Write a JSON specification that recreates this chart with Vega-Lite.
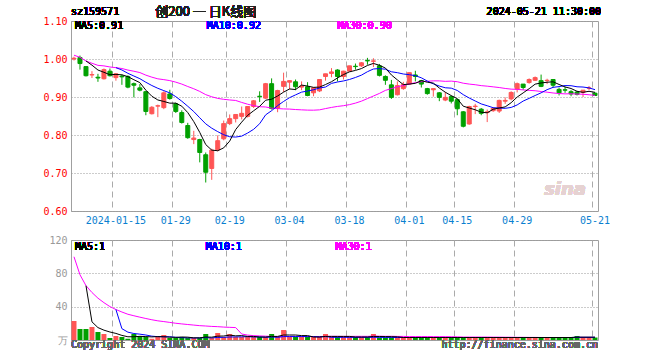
{
"$schema":"https://vega.github.io/schema/vega-lite/v6.json",
"autosize":{"type":"pad"},
"padding":{"left":42,"top":5,"right":10,"bottom":5},
"bounds":"flush",
"spacing":29,
"config":{"font":"DejaVu Sans Mono","view":{"stroke":"#a0a0a0","strokeWidth":1},"background":"#ffffff",
 "text":{"fontWeight":"normal"},
 "axis":{"labelFont":"DejaVu Sans Mono","labelFontSize":10,"ticks":false,"domain":false,"labelOverlap":false,"labelPadding":4}},
"data":{"values":[
{"d":"2024-01-04","o":1.000,"h":1.006,"l":0.996,"c":1.002,"v":22.8,"m5":null,"m10":null,"m30":1.0100,"vm5":null,"vm10":null,"vm30":99.9},
{"d":"2024-01-05","o":1.004,"h":1.009,"l":0.972,"c":0.988,"v":13.2,"m5":null,"m10":null,"m30":1.0045,"vm5":null,"vm10":null,"vm30":78.3},
{"d":"2024-01-08","o":0.980,"h":0.981,"l":0.954,"c":0.956,"v":13.2,"m5":0.9948,"m10":null,"m30":0.9948,"vm5":65.2,"vm10":null,"vm30":65.2},
{"d":"2024-01-09","o":0.958,"h":0.968,"l":0.950,"c":0.959,"v":15.6,"m5":0.9838,"m10":null,"m30":0.9888,"vm5":21.8,"vm10":null,"vm30":57.0},
{"d":"2024-01-10","o":0.952,"h":0.961,"l":0.940,"c":0.950,"v":9.6,"m5":0.9710,"m10":null,"m30":0.9833,"vm5":14.9,"vm10":null,"vm30":50.2},
{"d":"2024-01-11","o":0.948,"h":0.975,"l":0.946,"c":0.972,"v":7.2,"m5":0.9650,"m10":null,"m30":0.9819,"vm5":11.8,"vm10":null,"vm30":44.8},
{"d":"2024-01-12","o":0.968,"h":0.975,"l":0.954,"c":0.956,"v":2.4,"m5":0.9586,"m10":null,"m30":0.9790,"vm5":9.6,"vm10":null,"vm30":40.1},
{"d":"2024-01-15","o":0.951,"h":0.962,"l":0.943,"c":0.961,"v":4.8,"m5":0.9596,"m10":0.9772,"m30":0.9772,"vm5":7.9,"vm10":36.6,"vm30":36.6},
{"d":"2024-01-16","o":0.955,"h":0.959,"l":0.932,"c":0.953,"v":3.6,"m5":0.9584,"m10":0.9711,"m30":0.9750,"vm5":5.5,"vm10":13.6,"vm30":33.6},
{"d":"2024-01-17","o":0.954,"h":0.957,"l":0.923,"c":0.926,"v":1.5,"m5":0.9536,"m10":0.9623,"m30":0.9709,"vm5":3.9,"vm10":9.4,"vm30":30.9},
{"d":"2024-01-18","o":0.935,"h":0.938,"l":0.899,"c":0.931,"v":7.2,"m5":0.9454,"m10":0.9552,"m30":0.9678,"vm5":3.9,"vm10":7.8,"vm30":29.1},
{"d":"2024-01-19","o":0.924,"h":0.934,"l":0.915,"c":0.918,"v":4.8,"m5":0.9378,"m10":0.9482,"m30":0.9643,"vm5":4.4,"vm10":7.0,"vm30":27.4},
{"d":"2024-01-22","o":0.914,"h":0.915,"l":0.852,"c":0.862,"v":3.6,"m5":0.9180,"m10":0.9388,"m30":0.9575,"vm5":4.1,"vm10":6.0,"vm30":25.8},
{"d":"2024-01-23","o":0.856,"h":0.876,"l":0.854,"c":0.873,"v":1.5,"m5":0.9020,"m10":0.9302,"m30":0.9522,"vm5":3.7,"vm10":4.6,"vm30":24.3},
{"d":"2024-01-24","o":0.876,"h":0.880,"l":0.847,"c":0.877,"v":3.6,"m5":0.8922,"m10":0.9229,"m30":0.9478,"vm5":4.1,"vm10":4.0,"vm30":23.0},
{"d":"2024-01-25","o":0.872,"h":0.915,"l":0.868,"c":0.911,"v":6.0,"m5":0.8882,"m10":0.9168,"m30":0.9457,"vm5":3.9,"vm10":3.9,"vm30":22.1},
{"d":"2024-01-26","o":0.908,"h":0.919,"l":0.893,"c":0.896,"v":2.4,"m5":0.8838,"m10":0.9108,"m30":0.9431,"vm5":3.4,"vm10":3.9,"vm30":21.1},
{"d":"2024-01-29","o":0.882,"h":0.885,"l":0.858,"c":0.862,"v":2.4,"m5":0.8838,"m10":0.9009,"m30":0.9391,"vm5":3.2,"vm10":3.2,"vm30":20.1},
{"d":"2024-01-30","o":0.859,"h":0.865,"l":0.830,"c":0.833,"v":3.6,"m5":0.8758,"m10":0.8889,"m30":0.9340,"vm5":3.6,"vm10":2.8,"vm30":19.3},
{"d":"2024-01-31","o":0.825,"h":0.832,"l":0.790,"c":0.793,"v":2.4,"m5":0.8590,"m10":0.8756,"m30":0.9276,"vm5":3.4,"vm10":2.6,"vm30":18.6},
{"d":"2024-02-01","o":0.788,"h":0.811,"l":0.776,"c":0.792,"v":2.4,"m5":0.8352,"m10":0.8617,"m30":0.9217,"vm5":2.6,"vm10":2.4,"vm30":17.9},
{"d":"2024-02-02","o":0.788,"h":0.790,"l":0.728,"c":0.754,"v":2.4,"m5":0.8068,"m10":0.8453,"m30":0.9147,"vm5":2.6,"vm10":2.5,"vm30":17.2},
{"d":"2024-02-05","o":0.748,"h":0.754,"l":0.675,"c":0.702,"v":7.2,"m5":0.7748,"m10":0.8293,"m30":0.9062,"vm5":3.6,"vm10":2.9,"vm30":16.8},
{"d":"2024-02-06","o":0.712,"h":0.764,"l":0.682,"c":0.760,"v":2.4,"m5":0.7602,"m10":0.8180,"m30":0.9006,"vm5":3.4,"vm10":2.5,"vm30":16.3},
{"d":"2024-02-07","o":0.761,"h":0.799,"l":0.757,"c":0.785,"v":8.4,"m5":0.7586,"m10":0.8088,"m30":0.8963,"vm5":4.6,"vm10":3.1,"vm30":16.0},
{"d":"2024-02-08","o":0.790,"h":0.838,"l":0.786,"c":0.830,"v":3.6,"m5":0.7662,"m10":0.8007,"m30":0.8939,"vm5":4.8,"vm10":3.2,"vm30":15.5},
{"d":"2024-02-19","o":0.830,"h":0.854,"l":0.826,"c":0.843,"v":7.2,"m5":0.7840,"m10":0.7954,"m30":0.8922,"vm5":5.8,"vm10":3.6,"vm30":15.2},
{"d":"2024-02-20","o":0.843,"h":0.854,"l":0.833,"c":0.854,"v":3.6,"m5":0.8144,"m10":0.7946,"m30":0.8909,"vm5":5.0,"vm10":3.7,"vm30":14.9},
{"d":"2024-02-21","o":0.849,"h":0.875,"l":0.841,"c":0.857,"v":3.6,"m5":0.8338,"m10":0.7970,"m30":0.8857,"vm5":5.3,"vm10":3.8,"vm30":7.2},
{"d":"2024-02-22","o":0.849,"h":0.876,"l":0.846,"c":0.875,"v":3.6,"m5":0.8518,"m10":0.8052,"m30":0.8810,"vm5":4.3,"vm10":4.0,"vm30":5.9},
{"d":"2024-02-23","o":0.875,"h":0.892,"l":0.871,"c":0.890,"v":3.6,"m5":0.8638,"m10":0.8150,"m30":0.8773,"vm5":4.3,"vm10":3.6,"vm30":5.2},
{"d":"2024-02-26","o":0.902,"h":0.915,"l":0.887,"c":0.901,"v":3.6,"m5":0.8754,"m10":0.8297,"m30":0.8744,"vm5":3.6,"vm10":3.7,"vm30":4.9},
{"d":"2024-02-27","o":0.897,"h":0.937,"l":0.895,"c":0.935,"v":3.6,"m5":0.8916,"m10":0.8530,"m30":0.8737,"vm5":3.6,"vm10":3.2,"vm30":4.6},
{"d":"2024-02-28","o":0.935,"h":0.949,"l":0.867,"c":0.870,"v":7.2,"m5":0.8942,"m10":0.8640,"m30":0.8707,"vm5":4.3,"vm10":3.6,"vm30":4.3},
{"d":"2024-02-29","o":0.871,"h":0.919,"l":0.860,"c":0.917,"v":3.6,"m5":0.9026,"m10":0.8772,"m30":0.8696,"vm5":4.3,"vm10":3.2,"vm30":4.1},
{"d":"2024-03-01","o":0.928,"h":0.964,"l":0.913,"c":0.941,"v":12.0,"m5":0.9128,"m10":0.8883,"m30":0.8686,"vm5":6.0,"vm10":4.1,"vm30":4.3},
{"d":"2024-03-04","o":0.939,"h":0.943,"l":0.920,"c":0.943,"v":3.6,"m5":0.9212,"m10":0.8983,"m30":0.8682,"vm5":6.0,"vm10":4.1,"vm30":4.3},
{"d":"2024-03-05","o":0.940,"h":0.946,"l":0.918,"c":0.927,"v":3.6,"m5":0.9196,"m10":0.9056,"m30":0.8670,"vm5":6.0,"vm10":4.1,"vm30":4.3},
{"d":"2024-03-06","o":0.926,"h":0.941,"l":0.918,"c":0.929,"v":3.6,"m5":0.9314,"m10":0.9128,"m30":0.8662,"vm5":5.3,"vm10":4.1,"vm30":4.3},
{"d":"2024-03-07","o":0.927,"h":0.939,"l":0.902,"c":0.904,"v":3.6,"m5":0.9288,"m10":0.9157,"m30":0.8655,"vm5":5.3,"vm10":4.1,"vm30":4.3},
{"d":"2024-03-08","o":0.911,"h":0.926,"l":0.902,"c":0.924,"v":3.6,"m5":0.9254,"m10":0.9191,"m30":0.8653,"vm5":3.6,"vm10":4.1,"vm30":4.2},
{"d":"2024-03-11","o":0.916,"h":0.947,"l":0.913,"c":0.946,"v":3.6,"m5":0.9260,"m10":0.9236,"m30":0.8662,"vm5":3.6,"vm10":3.7,"vm30":4.2},
{"d":"2024-03-12","o":0.954,"h":0.961,"l":0.943,"c":0.961,"v":7.2,"m5":0.9328,"m10":0.9262,"m30":0.8695,"vm5":4.3,"vm10":4.1,"vm30":4.3},
{"d":"2024-03-13","o":0.962,"h":0.976,"l":0.952,"c":0.966,"v":3.6,"m5":0.9402,"m10":0.9358,"m30":0.8726,"vm5":4.3,"vm10":3.2,"vm30":4.4},
{"d":"2024-03-14","o":0.971,"h":0.973,"l":0.941,"c":0.954,"v":3.6,"m5":0.9502,"m10":0.9395,"m30":0.8752,"vm5":4.3,"vm10":3.2,"vm30":4.4},
{"d":"2024-03-15","o":0.954,"h":0.969,"l":0.946,"c":0.968,"v":3.6,"m5":0.9590,"m10":0.9422,"m30":0.8771,"vm5":4.3,"vm10":3.2,"vm30":4.3},
{"d":"2024-03-18","o":0.968,"h":0.982,"l":0.968,"c":0.982,"v":3.6,"m5":0.9662,"m10":0.9461,"m30":0.8799,"vm5":4.3,"vm10":3.2,"vm30":4.3},
{"d":"2024-03-19","o":0.981,"h":0.988,"l":0.972,"c":0.980,"v":3.6,"m5":0.9700,"m10":0.9514,"m30":0.8839,"vm5":3.6,"vm10":3.2,"vm30":4.4},
{"d":"2024-03-20","o":0.982,"h":0.992,"l":0.979,"c":0.990,"v":3.6,"m5":0.9748,"m10":0.9575,"m30":0.8891,"vm5":3.6,"vm10":3.2,"vm30":4.4},
{"d":"2024-03-21","o":0.996,"h":1.003,"l":0.985,"c":0.995,"v":3.6,"m5":0.9830,"m10":0.9666,"m30":0.8958,"vm5":3.6,"vm10":3.2,"vm30":4.4},
{"d":"2024-03-22","o":0.994,"h":1.002,"l":0.979,"c":0.995,"v":7.2,"m5":0.9884,"m10":0.9737,"m30":0.9026,"vm5":4.3,"vm10":3.2,"vm30":4.6},
{"d":"2024-03-25","o":0.982,"h":0.987,"l":0.954,"c":0.957,"v":3.0,"m5":0.9834,"m10":0.9748,"m30":0.9094,"vm5":4.2,"vm10":3.2,"vm30":4.6},
{"d":"2024-03-26","o":0.954,"h":0.957,"l":0.932,"c":0.944,"v":3.0,"m5":0.9762,"m10":0.9731,"m30":0.9174,"vm5":4.1,"vm10":3.1,"vm30":4.4},
{"d":"2024-03-27","o":0.932,"h":0.945,"l":0.895,"c":0.899,"v":3.0,"m5":0.9580,"m10":0.9664,"m30":0.9221,"vm5":4.0,"vm10":3.1,"vm30":4.5},
{"d":"2024-03-28","o":0.906,"h":0.941,"l":0.904,"c":0.930,"v":3.0,"m5":0.9450,"m10":0.9640,"m30":0.9269,"vm5":3.8,"vm10":3.0,"vm30":4.3},
{"d":"2024-03-29","o":0.922,"h":0.940,"l":0.919,"c":0.933,"v":3.0,"m5":0.9326,"m10":0.9605,"m30":0.9303,"vm5":3.0,"vm10":3.0,"vm30":4.3},
{"d":"2024-04-01","o":0.934,"h":0.964,"l":0.932,"c":0.964,"v":3.0,"m5":0.9340,"m10":0.9587,"m30":0.9344,"vm5":3.0,"vm10":3.0,"vm30":4.1},
{"d":"2024-04-02","o":0.958,"h":0.969,"l":0.941,"c":0.954,"v":3.0,"m5":0.9360,"m10":0.9561,"m30":0.9377,"vm5":3.0,"vm10":3.0,"vm30":4.1},
{"d":"2024-04-03","o":0.943,"h":0.945,"l":0.925,"c":0.934,"v":3.0,"m5":0.9430,"m10":0.9505,"m30":0.9403,"vm5":3.0,"vm10":3.0,"vm30":4.1},
{"d":"2024-04-08","o":0.922,"h":0.924,"l":0.906,"c":0.909,"v":3.0,"m5":0.9388,"m10":0.9419,"m30":0.9414,"vm5":3.0,"vm10":3.0,"vm30":4.1},
{"d":"2024-04-09","o":0.919,"h":0.922,"l":0.901,"c":0.922,"v":3.0,"m5":0.9366,"m10":0.9346,"m30":0.9425,"vm5":3.0,"vm10":3.0,"vm30":4.0},
{"d":"2024-04-10","o":0.911,"h":0.913,"l":0.889,"c":0.899,"v":3.0,"m5":0.9236,"m10":0.9288,"m30":0.9424,"vm5":3.0,"vm10":3.0,"vm30":4.0},
{"d":"2024-04-11","o":0.892,"h":0.913,"l":0.889,"c":0.899,"v":3.0,"m5":0.9126,"m10":0.9243,"m30":0.9412,"vm5":3.0,"vm10":3.0,"vm30":4.0},
{"d":"2024-04-12","o":0.901,"h":0.904,"l":0.883,"c":0.889,"v":3.0,"m5":0.9036,"m10":0.9233,"m30":0.9418,"vm5":3.0,"vm10":3.0,"vm30":3.9},
{"d":"2024-04-15","o":0.893,"h":0.896,"l":0.852,"c":0.869,"v":3.0,"m5":0.8956,"m10":0.9172,"m30":0.9402,"vm5":3.0,"vm10":3.0,"vm30":3.8},
{"d":"2024-04-16","o":0.861,"h":0.863,"l":0.820,"c":0.823,"v":3.0,"m5":0.8758,"m10":0.9062,"m30":0.9363,"vm5":3.0,"vm10":3.0,"vm30":3.5},
{"d":"2024-04-17","o":0.829,"h":0.877,"l":0.827,"c":0.875,"v":3.0,"m5":0.8710,"m10":0.8973,"m30":0.9340,"vm5":3.0,"vm10":3.0,"vm30":3.5},
{"d":"2024-04-18","o":0.875,"h":0.882,"l":0.855,"c":0.876,"v":3.0,"m5":0.8664,"m10":0.8895,"m30":0.9323,"vm5":3.0,"vm10":3.0,"vm30":3.5},
{"d":"2024-04-19","o":0.868,"h":0.871,"l":0.852,"c":0.857,"v":3.0,"m5":0.8600,"m10":0.8818,"m30":0.9299,"vm5":3.0,"vm10":3.0,"vm30":3.5},
{"d":"2024-04-22","o":0.859,"h":0.867,"l":0.834,"c":0.861,"v":3.0,"m5":0.8584,"m10":0.8770,"m30":0.9285,"vm5":3.0,"vm10":3.0,"vm30":3.5},
{"d":"2024-04-23","o":0.864,"h":0.873,"l":0.861,"c":0.870,"v":3.0,"m5":0.8678,"m10":0.8718,"m30":0.9267,"vm5":3.0,"vm10":3.0,"vm30":3.4},
{"d":"2024-04-24","o":0.863,"h":0.893,"l":0.858,"c":0.891,"v":3.0,"m5":0.8710,"m10":0.8710,"m30":0.9249,"vm5":3.0,"vm10":3.0,"vm30":3.4},
{"d":"2024-04-25","o":0.889,"h":0.899,"l":0.882,"c":0.891,"v":3.0,"m5":0.8740,"m10":0.8702,"m30":0.9225,"vm5":3.0,"vm10":3.0,"vm30":3.3},
{"d":"2024-04-26","o":0.895,"h":0.915,"l":0.891,"c":0.912,"v":3.0,"m5":0.8850,"m10":0.8725,"m30":0.9207,"vm5":3.0,"vm10":3.0,"vm30":3.3},
{"d":"2024-04-29","o":0.921,"h":0.938,"l":0.912,"c":0.935,"v":3.0,"m5":0.8998,"m10":0.8791,"m30":0.9201,"vm5":3.0,"vm10":3.0,"vm30":3.2},
{"d":"2024-04-30","o":0.934,"h":0.934,"l":0.919,"c":0.925,"v":3.0,"m5":0.9108,"m10":0.8893,"m30":0.9187,"vm5":3.0,"vm10":3.0,"vm30":3.2},
{"d":"2024-05-06","o":0.938,"h":0.949,"l":0.935,"c":0.946,"v":3.0,"m5":0.9218,"m10":0.8964,"m30":0.9175,"vm5":3.0,"vm10":3.0,"vm30":3.1},
{"d":"2024-05-07","o":0.944,"h":0.954,"l":0.942,"c":0.951,"v":3.0,"m5":0.9338,"m10":0.9039,"m30":0.9165,"vm5":3.0,"vm10":3.0,"vm30":3.1},
{"d":"2024-05-08","o":0.943,"h":0.959,"l":0.926,"c":0.928,"v":3.0,"m5":0.9370,"m10":0.9110,"m30":0.9144,"vm5":3.0,"vm10":3.0,"vm30":3.0},
{"d":"2024-05-09","o":0.943,"h":0.948,"l":0.934,"c":0.944,"v":3.0,"m5":0.9388,"m10":0.9193,"m30":0.9127,"vm5":3.0,"vm10":3.0,"vm30":3.0},
{"d":"2024-05-10","o":0.946,"h":0.946,"l":0.925,"c":0.931,"v":3.0,"m5":0.9400,"m10":0.9254,"m30":0.9106,"vm5":3.0,"vm10":3.0,"vm30":3.0},
{"d":"2024-05-13","o":0.920,"h":0.925,"l":0.904,"c":0.911,"v":3.0,"m5":0.9330,"m10":0.9274,"m30":0.9091,"vm5":3.0,"vm10":3.0,"vm30":3.0},
{"d":"2024-05-14","o":0.919,"h":0.927,"l":0.911,"c":0.918,"v":3.0,"m5":0.9264,"m10":0.9301,"m30":0.9082,"vm5":3.0,"vm10":3.0,"vm30":3.0},
{"d":"2024-05-15","o":0.914,"h":0.918,"l":0.902,"c":0.908,"v":3.0,"m5":0.9224,"m10":0.9297,"m30":0.9085,"vm5":3.0,"vm10":3.0,"vm30":3.0},
{"d":"2024-05-16","o":0.913,"h":0.916,"l":0.904,"c":0.907,"v":4.8,"m5":0.9150,"m10":0.9269,"m30":0.9077,"vm5":3.4,"vm10":3.2,"vm30":3.1},
{"d":"2024-05-17","o":0.912,"h":0.918,"l":0.900,"c":0.918,"v":3.0,"m5":0.9124,"m10":0.9262,"m30":0.9072,"vm5":3.4,"vm10":3.2,"vm30":3.1},
{"d":"2024-05-20","o":0.923,"h":0.929,"l":0.918,"c":0.924,"v":3.0,"m5":0.9150,"m10":0.9240,"m30":0.9059,"vm5":3.4,"vm10":3.2,"vm30":3.1},
{"d":"2024-05-21","o":0.910,"h":0.912,"l":0.904,"c":0.904,"v":3.0,"m5":0.9122,"m10":0.9193,"m30":0.9042,"vm5":3.4,"vm10":3.2,"vm30":3.1}
]},
"vconcat":[
{
"width":527,"height":190,
"encoding":{"x":{"field":"d","type":"ordinal","title":null,"scale":{"type":"band","paddingInner":0,"paddingOuter":0},
 "axis":{"values":["2024-01-15","2024-01-29","2024-02-19","2024-03-04","2024-03-18","2024-04-01","2024-04-15","2024-04-29","2024-05-21"],"bandPosition":0,"labelExpr":"datum.value == '2024-01-15' ? datum.value : slice(datum.value, 5)","labelAngle":0,"labelColor":"#0a7fd0","grid":true,"gridColor":"#aaaaaa","gridDash":[6,4],"encode":{"labels":{"update":{"fill":{"value":"#0a7fd0"}}}}}}},
"layer":[
{"mark":{"type":"rule","strokeWidth":1},
 "encoding":{"y":{"field":"l","type":"quantitative","title":null,"scale":{"domain":[0.6,1.1],"nice":false,"zero":false},
   "axis":{"values":[0.6,0.7,0.8,0.9,1.0,1.1],"format":".2f","labelColor":"#ff0000","grid":true,"gridColor":"#999999","gridDash":[1,2],"encode":{"labels":{"update":{"fill":{"value":"#ff0000"}}}}}},
  "y2":{"field":"h"},
  "color":{"condition":{"test":"datum.c >= datum.o","value":"#ff5555"},"value":"#00a000"}}},
{"mark":{"type":"bar","width":4,"strokeWidth":1},
 "encoding":{"y":{"field":"o","type":"quantitative","title":null,"axis":{"values":[0.6,0.7,0.8,0.9,1.0,1.1],"format":".2f","labelColor":"#ff0000","grid":true,"gridColor":"#999999","gridDash":[1,2],"encode":{"labels":{"update":{"fill":{"value":"#ff0000"}}}}}},"y2":{"field":"c"},
  "color":{"condition":{"test":"datum.c >= datum.o","value":"#ff5555"},"value":"#00a000"},
  "stroke":{"condition":{"test":"datum.c >= datum.o","value":"#ff5555"},"value":"#00a000"}}},
{"mark":{"type":"line","stroke":"#ff00ff","strokeWidth":1},"encoding":{"y":{"field":"m30","type":"quantitative","title":null,"axis":{"values":[0.6,0.7,0.8,0.9,1.0,1.1],"format":".2f","labelColor":"#ff0000","grid":true,"gridColor":"#999999","gridDash":[1,2],"encode":{"labels":{"update":{"fill":{"value":"#ff0000"}}}}}}}},
{"mark":{"type":"line","stroke":"#0000ff","strokeWidth":1},"encoding":{"y":{"field":"m10","type":"quantitative","title":null,"axis":{"values":[0.6,0.7,0.8,0.9,1.0,1.1],"format":".2f","labelColor":"#ff0000","grid":true,"gridColor":"#999999","gridDash":[1,2],"encode":{"labels":{"update":{"fill":{"value":"#ff0000"}}}}}}}},
{"mark":{"type":"line","stroke":"#000000","strokeWidth":1},"encoding":{"y":{"field":"m5","type":"quantitative","title":null,"axis":{"values":[0.6,0.7,0.8,0.9,1.0,1.1],"format":".2f","labelColor":"#ff0000","grid":true,"gridColor":"#999999","gridDash":[1,2],"encode":{"labels":{"update":{"fill":{"value":"#ff0000"}}}}}}}},
{"mark":{"type":"text","text":"sina","fontSize":18,"fontStyle":"italic","fontWeight":"bold","font":"DejaVu Sans","fill":"#e6d2d2","align":"center","baseline":"middle"},
 "encoding":{"x":{"datum":"2024-05-14","type":"ordinal","title":null,"axis":{"values":["2024-01-15","2024-01-29","2024-02-19","2024-03-04","2024-03-18","2024-04-01","2024-04-15","2024-04-29","2024-05-21"],"bandPosition":0,"labelExpr":"datum.value == '2024-01-15' ? datum.value : slice(datum.value, 5)","labelAngle":0,"labelColor":"#0a7fd0","grid":true,"gridColor":"#aaaaaa","gridDash":[6,4],"encode":{"labels":{"update":{"fill":{"value":"#0a7fd0"}}}}}},
  "y":{"datum":0.656,"type":"quantitative","title":null,"axis":{"values":[0.6,0.7,0.8,0.9,1.0,1.1],"format":".2f","labelColor":"#ff0000","grid":true,"gridColor":"#999999","gridDash":[1,2],"encode":{"labels":{"update":{"fill":{"value":"#ff0000"}}}}}}}},
{"mark":{"type":"text","text":"sz159571","fontSize":10,"fill":"#000000","align":"left","baseline":"middle","dx":-3},
 "encoding":{"x":{"datum":"2024-01-04","type":"ordinal","title":null,"axis":{"values":["2024-01-15","2024-01-29","2024-02-19","2024-03-04","2024-03-18","2024-04-01","2024-04-15","2024-04-29","2024-05-21"],"bandPosition":0,"labelExpr":"datum.value == '2024-01-15' ? datum.value : slice(datum.value, 5)","labelAngle":0,"labelColor":"#0a7fd0","grid":true,"gridColor":"#aaaaaa","gridDash":[6,4],"encode":{"labels":{"update":{"fill":{"value":"#0a7fd0"}}}}}},
  "y":{"datum":1.1244,"type":"quantitative","title":null,"axis":{"values":[0.6,0.7,0.8,0.9,1.0,1.1],"format":".2f","labelColor":"#ff0000","grid":true,"gridColor":"#999999","gridDash":[1,2],"encode":{"labels":{"update":{"fill":{"value":"#ff0000"}}}}}}}},
{"mark":{"type":"text","text":"创200  一  日K线图","font":"Noto Sans CJK SC","fontSize":13,"fill":"#222222","align":"center","baseline":"middle"},
 "encoding":{"x":{"datum":"2024-02-05","type":"ordinal","title":null,"axis":{"values":["2024-01-15","2024-01-29","2024-02-19","2024-03-04","2024-03-18","2024-04-01","2024-04-15","2024-04-29","2024-05-21"],"bandPosition":0,"labelExpr":"datum.value == '2024-01-15' ? datum.value : slice(datum.value, 5)","labelAngle":0,"labelColor":"#0a7fd0","grid":true,"gridColor":"#aaaaaa","gridDash":[6,4],"encode":{"labels":{"update":{"fill":{"value":"#0a7fd0"}}}}}},
  "y":{"datum":1.1244,"type":"quantitative","title":null,"axis":{"values":[0.6,0.7,0.8,0.9,1.0,1.1],"format":".2f","labelColor":"#ff0000","grid":true,"gridColor":"#999999","gridDash":[1,2],"encode":{"labels":{"update":{"fill":{"value":"#ff0000"}}}}}}}},
{"mark":{"type":"text","text":"2024-05-21 11:30:00","fontSize":10,"fill":"#000000","align":"right","baseline":"middle","dx":6},
 "encoding":{"x":{"datum":"2024-05-21","type":"ordinal","title":null,"axis":{"values":["2024-01-15","2024-01-29","2024-02-19","2024-03-04","2024-03-18","2024-04-01","2024-04-15","2024-04-29","2024-05-21"],"bandPosition":0,"labelExpr":"datum.value == '2024-01-15' ? datum.value : slice(datum.value, 5)","labelAngle":0,"labelColor":"#0a7fd0","grid":true,"gridColor":"#aaaaaa","gridDash":[6,4],"encode":{"labels":{"update":{"fill":{"value":"#0a7fd0"}}}}}},
  "y":{"datum":1.1244,"type":"quantitative","title":null,"axis":{"values":[0.6,0.7,0.8,0.9,1.0,1.1],"format":".2f","labelColor":"#ff0000","grid":true,"gridColor":"#999999","gridDash":[1,2],"encode":{"labels":{"update":{"fill":{"value":"#ff0000"}}}}}}}},
{"mark":{"type":"text","text":"MA5:0.91","fontSize":10,"fill":"#000000","align":"left","baseline":"middle","dx":1},
 "encoding":{"x":{"datum":"2024-01-04","type":"ordinal","title":null,"axis":{"values":["2024-01-15","2024-01-29","2024-02-19","2024-03-04","2024-03-18","2024-04-01","2024-04-15","2024-04-29","2024-05-21"],"bandPosition":0,"labelExpr":"datum.value == '2024-01-15' ? datum.value : slice(datum.value, 5)","labelAngle":0,"labelColor":"#0a7fd0","grid":true,"gridColor":"#aaaaaa","gridDash":[6,4],"encode":{"labels":{"update":{"fill":{"value":"#0a7fd0"}}}}}},
  "y":{"datum":1.0877,"type":"quantitative","title":null,"axis":{"values":[0.6,0.7,0.8,0.9,1.0,1.1],"format":".2f","labelColor":"#ff0000","grid":true,"gridColor":"#999999","gridDash":[1,2],"encode":{"labels":{"update":{"fill":{"value":"#ff0000"}}}}}}}},
{"mark":{"type":"text","text":"MA10:0.92","fontSize":10,"fill":"#0000ff","align":"left","baseline":"middle","dx":1},
 "encoding":{"x":{"datum":"2024-02-05","type":"ordinal","title":null,"axis":{"values":["2024-01-15","2024-01-29","2024-02-19","2024-03-04","2024-03-18","2024-04-01","2024-04-15","2024-04-29","2024-05-21"],"bandPosition":0,"labelExpr":"datum.value == '2024-01-15' ? datum.value : slice(datum.value, 5)","labelAngle":0,"labelColor":"#0a7fd0","grid":true,"gridColor":"#aaaaaa","gridDash":[6,4],"encode":{"labels":{"update":{"fill":{"value":"#0a7fd0"}}}}}},
  "y":{"datum":1.0877,"type":"quantitative","title":null,"axis":{"values":[0.6,0.7,0.8,0.9,1.0,1.1],"format":".2f","labelColor":"#ff0000","grid":true,"gridColor":"#999999","gridDash":[1,2],"encode":{"labels":{"update":{"fill":{"value":"#ff0000"}}}}}}}},
{"mark":{"type":"text","text":"MA30:0.90","fontSize":10,"fill":"#ff00ff","align":"left","baseline":"middle","dx":0},
 "encoding":{"x":{"datum":"2024-03-14","type":"ordinal","title":null,"axis":{"values":["2024-01-15","2024-01-29","2024-02-19","2024-03-04","2024-03-18","2024-04-01","2024-04-15","2024-04-29","2024-05-21"],"bandPosition":0,"labelExpr":"datum.value == '2024-01-15' ? datum.value : slice(datum.value, 5)","labelAngle":0,"labelColor":"#0a7fd0","grid":true,"gridColor":"#aaaaaa","gridDash":[6,4],"encode":{"labels":{"update":{"fill":{"value":"#0a7fd0"}}}}}},
  "y":{"datum":1.0877,"type":"quantitative","title":null,"axis":{"values":[0.6,0.7,0.8,0.9,1.0,1.1],"format":".2f","labelColor":"#ff0000","grid":true,"gridColor":"#999999","gridDash":[1,2],"encode":{"labels":{"update":{"fill":{"value":"#ff0000"}}}}}}}}
]},
{
"width":527,"height":100,
"encoding":{"x":{"field":"d","type":"ordinal","title":null,"scale":{"type":"band","paddingInner":0,"paddingOuter":0},
 "axis":{"values":["2024-01-15","2024-01-29","2024-02-19","2024-03-04","2024-03-18","2024-04-01","2024-04-15","2024-04-29","2024-05-21"],"bandPosition":0,"labels":false,"grid":true,"gridColor":"#aaaaaa","gridDash":[6,4]}}},
"layer":[
{"mark":{"type":"bar","width":5},
 "encoding":{"y":{"field":"v","type":"quantitative","title":null,"scale":{"domain":[0,120],"nice":false},
   "axis":{"values":[0,40,80,120],"labelExpr":"datum.value == 0 ? '万' : datum.label","labelColor":"#999999","grid":true,"gridColor":"#999999","gridDash":[1,2],"encode":{"labels":{"update":{"fill":{"value":"#999999"}}}}}},
  "color":{"condition":{"test":"datum.c >= datum.o","value":"#ff5555"},"value":"#00a000"}}},
{"mark":{"type":"line","stroke":"#ff00ff","strokeWidth":1},"encoding":{"y":{"field":"vm30","type":"quantitative","title":null,"axis":{"values":[0,40,80,120],"labelExpr":"datum.value == 0 ? '万' : datum.label","labelColor":"#999999","grid":true,"gridColor":"#999999","gridDash":[1,2],"encode":{"labels":{"update":{"fill":{"value":"#999999"}}}}}}}},
{"mark":{"type":"line","stroke":"#0000ff","strokeWidth":1},"encoding":{"y":{"field":"vm10","type":"quantitative","title":null,"axis":{"values":[0,40,80,120],"labelExpr":"datum.value == 0 ? '万' : datum.label","labelColor":"#999999","grid":true,"gridColor":"#999999","gridDash":[1,2],"encode":{"labels":{"update":{"fill":{"value":"#999999"}}}}}}}},
{"mark":{"type":"line","stroke":"#000000","strokeWidth":1},"encoding":{"y":{"field":"vm5","type":"quantitative","title":null,"axis":{"values":[0,40,80,120],"labelExpr":"datum.value == 0 ? '万' : datum.label","labelColor":"#999999","grid":true,"gridColor":"#999999","gridDash":[1,2],"encode":{"labels":{"update":{"fill":{"value":"#999999"}}}}}}}},
{"mark":{"type":"text","text":"MA5:1","fontSize":10,"fill":"#000000","align":"left","baseline":"middle","dx":1},
 "encoding":{"x":{"datum":"2024-01-04","type":"ordinal","title":null,"axis":{"values":["2024-01-15","2024-01-29","2024-02-19","2024-03-04","2024-03-18","2024-04-01","2024-04-15","2024-04-29","2024-05-21"],"bandPosition":0,"labels":false,"grid":true,"gridColor":"#aaaaaa","gridDash":[6,4]}},
  "y":{"datum":112,"type":"quantitative","title":null,"axis":{"values":[0,40,80,120],"labelExpr":"datum.value == 0 ? '万' : datum.label","labelColor":"#999999","grid":true,"gridColor":"#999999","gridDash":[1,2],"encode":{"labels":{"update":{"fill":{"value":"#999999"}}}}}}}},
{"mark":{"type":"text","text":"MA10:1","fontSize":10,"fill":"#0000ff","align":"left","baseline":"middle","dx":0},
 "encoding":{"x":{"datum":"2024-02-05","type":"ordinal","title":null,"axis":{"values":["2024-01-15","2024-01-29","2024-02-19","2024-03-04","2024-03-18","2024-04-01","2024-04-15","2024-04-29","2024-05-21"],"bandPosition":0,"labels":false,"grid":true,"gridColor":"#aaaaaa","gridDash":[6,4]}},
  "y":{"datum":112,"type":"quantitative","title":null,"axis":{"values":[0,40,80,120],"labelExpr":"datum.value == 0 ? '万' : datum.label","labelColor":"#999999","grid":true,"gridColor":"#999999","gridDash":[1,2],"encode":{"labels":{"update":{"fill":{"value":"#999999"}}}}}}}},
{"mark":{"type":"text","text":"MA30:1","fontSize":10,"fill":"#ff00ff","align":"left","baseline":"middle","dx":-2},
 "encoding":{"x":{"datum":"2024-03-14","type":"ordinal","title":null,"axis":{"values":["2024-01-15","2024-01-29","2024-02-19","2024-03-04","2024-03-18","2024-04-01","2024-04-15","2024-04-29","2024-05-21"],"bandPosition":0,"labels":false,"grid":true,"gridColor":"#aaaaaa","gridDash":[6,4]}},
  "y":{"datum":112,"type":"quantitative","title":null,"axis":{"values":[0,40,80,120],"labelExpr":"datum.value == 0 ? '万' : datum.label","labelColor":"#999999","grid":true,"gridColor":"#999999","gridDash":[1,2],"encode":{"labels":{"update":{"fill":{"value":"#999999"}}}}}}}},
{"mark":{"type":"text","text":"Copyright 2024 SINA.COM","fontSize":10,"fill":"#666666","align":"left","baseline":"middle","dx":-3},
 "encoding":{"x":{"datum":"2024-01-04","type":"ordinal","title":null,"axis":{"values":["2024-01-15","2024-01-29","2024-02-19","2024-03-04","2024-03-18","2024-04-01","2024-04-15","2024-04-29","2024-05-21"],"bandPosition":0,"labels":false,"grid":true,"gridColor":"#aaaaaa","gridDash":[6,4]}},
  "y":{"datum":-6.2,"type":"quantitative","title":null,"axis":{"values":[0,40,80,120],"labelExpr":"datum.value == 0 ? '万' : datum.label","labelColor":"#999999","grid":true,"gridColor":"#999999","gridDash":[1,2],"encode":{"labels":{"update":{"fill":{"value":"#999999"}}}}}}}},
{"mark":{"type":"text","text":"http://finance.sina.com.cn","fontSize":10,"fill":"#666666","align":"right","baseline":"middle","dx":3},
 "encoding":{"x":{"datum":"2024-05-21","type":"ordinal","title":null,"axis":{"values":["2024-01-15","2024-01-29","2024-02-19","2024-03-04","2024-03-18","2024-04-01","2024-04-15","2024-04-29","2024-05-21"],"bandPosition":0,"labels":false,"grid":true,"gridColor":"#aaaaaa","gridDash":[6,4]}},
  "y":{"datum":-6.2,"type":"quantitative","title":null,"axis":{"values":[0,40,80,120],"labelExpr":"datum.value == 0 ? '万' : datum.label","labelColor":"#999999","grid":true,"gridColor":"#999999","gridDash":[1,2],"encode":{"labels":{"update":{"fill":{"value":"#999999"}}}}}}}}
]}
]
}
